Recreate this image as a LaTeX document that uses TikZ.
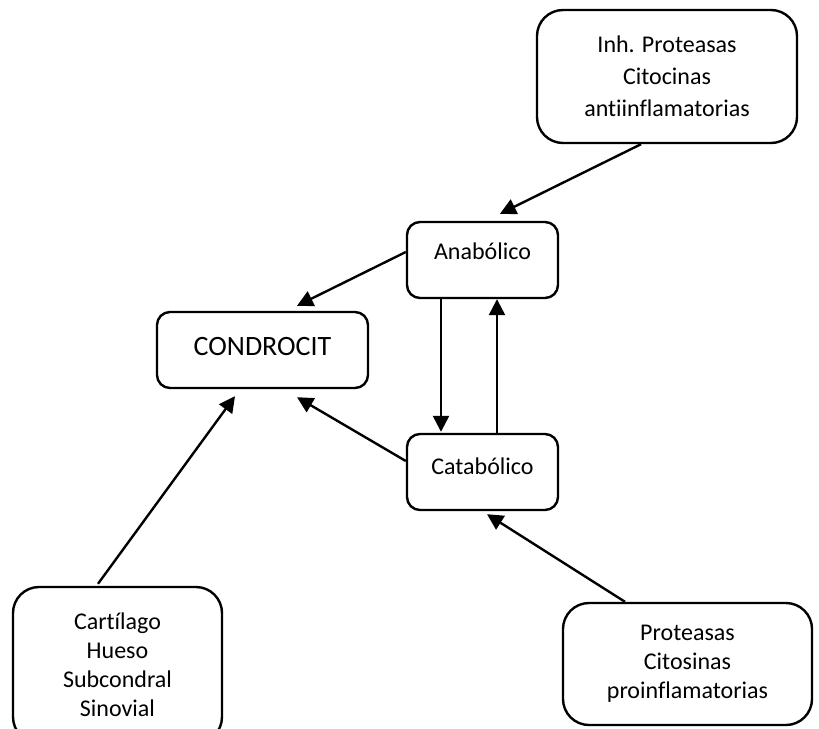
\documentclass[tikz,border=0pt]{standalone}
\usepackage{fontspec}
\setmainfont{Carlito}[Ligatures=NoCommon]
\usetikzlibrary{positioning,calc,arrows.meta}
\tikzset{
box/.style={draw, line width=2.4pt, rounded corners=13pt, inner sep=0pt,
  minimum width=151pt, minimum height=76pt, font=\fontsize{24}{29}\selectfont}, % small rounded boxes
bigbox/.style={box, rounded corners=26pt, align=center}, % text boxes at the corners
lift/.style={text height=18pt, text depth=#1}, % moves the single line up in its box
link/.style={line width=2.4pt, -{Triangle[length=16pt,width=16pt]}},
}

\begin{document}
\begin{tikzpicture}[x=1pt,y=-1pt]
   \useasboundingbox (0,0) rectangle (819,728);
   \node[bigbox, minimum width=260pt, minimum height=133pt, font=\fontsize{24}{32}\selectfont] (inh) at (667,76.5) {Inh. Proteasas\\Citocinas\\antiinflamatorias};
   \node[box, lift=20pt] (ana) at (482.5,260) {Anabólico};
   \node[box, lift=14pt] (cata) [on grid, below=212pt of ana] {Catabólico};
   \node[box, minimum width=211pt, lift=8pt, font=\fontsize{28}{34}\selectfont] (cond) at (262.5,350) {CONDROCIT};
   \node[bigbox, minimum width=209pt, minimum height=156pt] (cart) at (117.5,665) {Cartílago\\Hueso\\Subcondral\\Sinovial};
   \node[bigbox, minimum width=249pt, minimum height=122pt] (prot) at (687.5,664) {Proteasas\\Citosinas\\proinflamatorias};
   \draw[link] ($(inh.south)+(-26,0)$) -- ($(ana.north)+(17.5,-7)$);
   \draw[link] ($(ana.west)+(0,-8)$) -- ($(cond.north)+(34.5,-5)$);
   \draw[link] ($(ana.south)+(-41.5,0)$) -- ($(cata.north)+(-41.5,-1)$);
   \draw[link] ($(cata.north)+(14.5,0)$) -- ($(ana.south)+(14.5,0)$);
   \draw[link] ($(cata.west)+(0,-11)$) -- ($(cond.south)+(34.5,8)$);
   \draw[link] ($(cart.north)+(-19.5,-2)$) -- ($(cond.south)+(-27.5,7)$);
   \draw[link] ($(prot.north)+(-62.5,0)$) -- ($(cata.south)+(4.5,3)$);
\end{tikzpicture}
\end{document}
